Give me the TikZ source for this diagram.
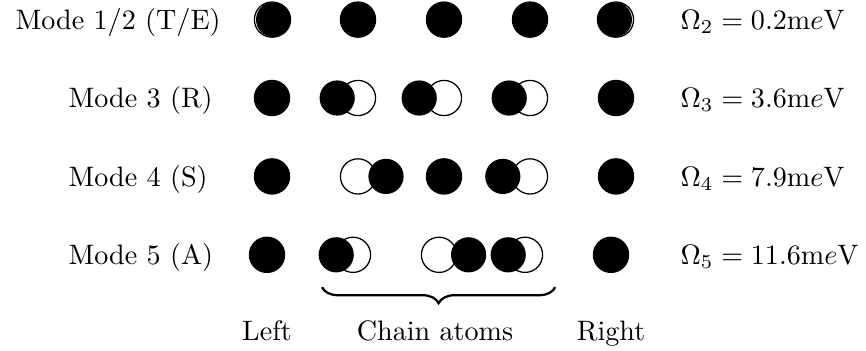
\documentclass[tikz,border=0pt]{standalone}
\usepackage{amsmath,amssymb}
\usetikzlibrary{decorations.pathreplacing}

\tikzset{
  eqpos/.style={draw=black, line width=0.45pt},
  atom/.style={fill=black},
  modelabel/.style={anchor=base west, inner sep=0pt},
  sitelabel/.style={anchor=base, inner sep=0pt},
}
\newcommand{\ratom}{0.22}

\begin{document}
\begin{tikzpicture}
  \useasboundingbox (0,0) rectangle (10.825,-4.375);
  % Each atom: open circle = rest position, filled circle = displaced position
  % Row 1: translation / elastic (almost rigid)
  \foreach \x/\d in {3.4/0.02, 4.475/0, 5.55/0, 6.625/0, 7.7/-0.02} {
    \draw[eqpos] (\x,-0.245) circle (\ratom);
    \fill[atom] (\x+\d,-0.245) circle (\ratom);
  }
  % Row 2: rotation, chain atoms all shifted left
  \foreach \x/\d in {3.4/0, 4.475/-0.26, 5.55/-0.31, 6.625/-0.26, 7.7/0} {
    \draw[eqpos] (\x,-1.225) circle (\ratom);
    \fill[atom] (\x+\d,-1.225) circle (\ratom);
  }
  % Row 3: symmetric, outer chain atoms move inward
  \foreach \x/\d in {3.4/0, 4.475/0.35, 5.55/0, 6.625/-0.34, 7.7/0} {
    \draw[eqpos] (\x,-2.205) circle (\ratom);
    \fill[atom] (\x+\d,-2.205) circle (\ratom);
  }
  % Row 4: antisymmetric
  \foreach \x/\d in {3.3375/0, 4.4125/-0.21, 5.4875/0.37, 6.5625/-0.21, 7.6375/0} {
    \draw[eqpos] (\x,-3.185) circle (\ratom);
    \fill[atom] (\x+\d,-3.185) circle (\ratom);
  }
  % Mode names
  \node[modelabel] (m12) at (0.1875,-0.365) {Mode 1/2 (T/E)};
  \node[modelabel] (m3)  at (0.85,-1.345)   {Mode 3 (R)};
  \node[modelabel] (m4)  at (0.85,-2.325)   {Mode 4 (S)};
  \node[modelabel] (m5)  at (0.85,-3.305)   {Mode 5 (A)};
  % Frequencies
  \node[modelabel] (w2) at (8.5,-0.365) {$\Omega_2 = 0.2\mathrm{m}e\mathrm{V}$};
  \node[modelabel] (w3) at (8.5,-1.345) {$\Omega_3 = 3.6\mathrm{m}e\mathrm{V}$};
  \node[modelabel] (w4) at (8.5,-2.325) {$\Omega_4 = 7.9\mathrm{m}e\mathrm{V}$};
  \node[modelabel] (w5) at (8.5,-3.305) {$\Omega_5 = 11.6\mathrm{m}e\mathrm{V}$};
  % Brace under the chain
  \coordinate (bl) at (4.025,-3.59);
  \coordinate (br) at (6.94,-3.59);
  \draw[thick, decorate, decoration={brace, mirror, amplitude=0.2cm}] (bl) -- (br);
  \node[sitelabel] (left)  at (3.3375,-4.25) {Left};
  \node[sitelabel] (chain) at (5.4375,-4.25) {Chain atoms};
  \node[sitelabel] (right) at (7.6375,-4.25) {Right};
\end{tikzpicture}
\end{document}
